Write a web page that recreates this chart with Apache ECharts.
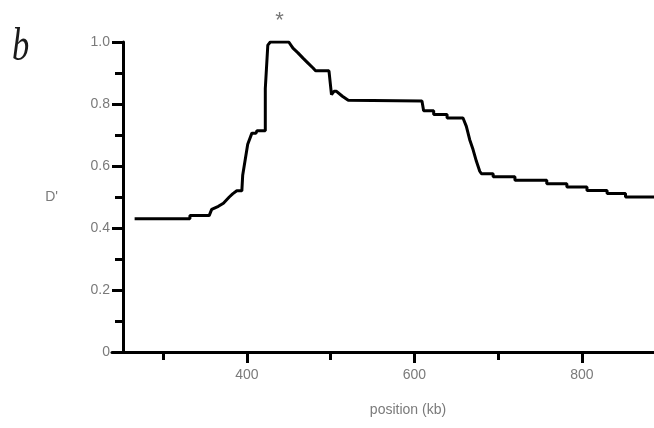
<!DOCTYPE html>
<html>
<head>
<meta charset="utf-8">
<script src="https://cdn.jsdelivr.net/npm/echarts@6/dist/echarts.min.js"></script>
<style>
  html, body { margin: 0; padding: 0; background: #fff; }
  #chart { width: 654px; height: 428px; }
</style>
</head>
<body>
<div id="chart"></div>
<script>
// D' profile along the region (position in kb)
const positionKb = [266, 332, 332, 355, 358, 366, 372, 379, 383, 388, 394, 395, 398, 401, 406, 411, 412, 422, 422, 425, 428, 450, 455, 461, 467, 473, 479, 482, 498, 501, 504, 507, 514, 521, 609, 611, 623, 623, 639, 639, 658, 662, 666, 670, 674, 678, 680, 694, 694, 720, 720, 758, 758, 782, 782, 806, 806, 830, 830, 852, 852, 886];
const dPrime = [0.43, 0.43, 0.44, 0.44, 0.46, 0.47, 0.48, 0.50, 0.51, 0.52, 0.52, 0.57, 0.62, 0.67, 0.706, 0.706, 0.714, 0.714, 0.85, 0.99, 1.0, 1.0, 0.98, 0.965, 0.948, 0.932, 0.916, 0.907, 0.907, 0.83, 0.841, 0.841, 0.825, 0.812, 0.81, 0.778, 0.778, 0.766, 0.766, 0.755, 0.755, 0.728, 0.685, 0.653, 0.615, 0.583, 0.575, 0.575, 0.565, 0.565, 0.554, 0.554, 0.543, 0.543, 0.532, 0.532, 0.521, 0.521, 0.511, 0.511, 0.50, 0.50];

// Axis ticks
const xMajorTicks = [400, 600, 800];
const xMinorTicks = [300, 500, 700];
const peakMarker = [439, 1.0];

const labelFont = { color: '#7a7a7a', fontSize: 14, fontFamily: 'Liberation Sans, Arial, sans-serif' };

const chart = echarts.init(document.getElementById('chart'), null, { renderer: 'canvas' });

const xRange = { min: 239, max: 886 };

chart.setOption({
  animation: false,
  backgroundColor: '#fff',
  grid: { left: 112, right: 0, top: 42, bottom: 76, containLabel: false, outerBoundsMode: 'none' },
  graphic: [{
    type: 'text',
    left: 12,
    top: 25,
    scaleX: 0.75,
    style: { text: 'b', font: 'italic 46px "Liberation Serif", serif', fill: '#1a1a1a' }
  }],
  xAxis: [{
    type: 'value',
    min: xRange.min, max: xRange.max,
    position: 'bottom',
    name: 'position (kb)',
    nameLocation: 'middle',
    nameGap: 51,
    nameTextStyle: Object.assign({ padding: [0, 0, 0, 50] }, labelFont),
    axisLine: { show: true, lineStyle: { color: '#000', width: 3 } },
    axisTick: { show: true, length: 11, lineStyle: { color: '#000', width: 3 }, customValues: xMajorTicks },
    axisLabel: Object.assign({ margin: 16, customValues: xMajorTicks }, labelFont),
    splitLine: { show: false }
  }, {
    type: 'value',
    min: xRange.min, max: xRange.max,
    position: 'bottom',
    axisLine: { show: false },
    axisTick: { show: true, length: 8, lineStyle: { color: '#000', width: 3 }, customValues: xMinorTicks },
    axisLabel: { show: false, customValues: xMinorTicks },
    splitLine: { show: false }
  }],
  yAxis: {
    type: 'value',
    min: 0, max: 1.0, interval: 0.2,
    offset: -11,
    name: "D'",
    nameLocation: 'middle',
    nameRotate: 0,
    nameGap: 65,
    nameTextStyle: labelFont,
    axisLine: { show: true, lineStyle: { color: '#000', width: 3 } },
    axisTick: { show: true, length: 11, lineStyle: { color: '#000', width: 3 } },
    minorTick: { show: true, splitNumber: 2, length: 8, lineStyle: { color: '#000', width: 3 } },
    axisLabel: Object.assign({ margin: 13, formatter: v => (v === 0 ? '0' : v.toFixed(1)) }, labelFont),
    splitLine: { show: false },
    minorSplitLine: { show: false }
  },
  series: [{
    type: 'line',
    xAxisIndex: 0,
    data: positionKb.map((p, i) => [p, dPrime[i]]),
    showSymbol: false,
    symbol: 'none',
    lineStyle: { color: '#000', width: 3 },
    markPoint: {
      symbol: 'circle',
      symbolSize: 0,
      data: [{ coord: peakMarker }],
      label: { show: true, formatter: '*', position: 'top', distance: 10, color: '#777', fontSize: 22, fontFamily: 'Liberation Sans, Arial, sans-serif' }
    }
  }]
});
</script>
</body>
</html>
